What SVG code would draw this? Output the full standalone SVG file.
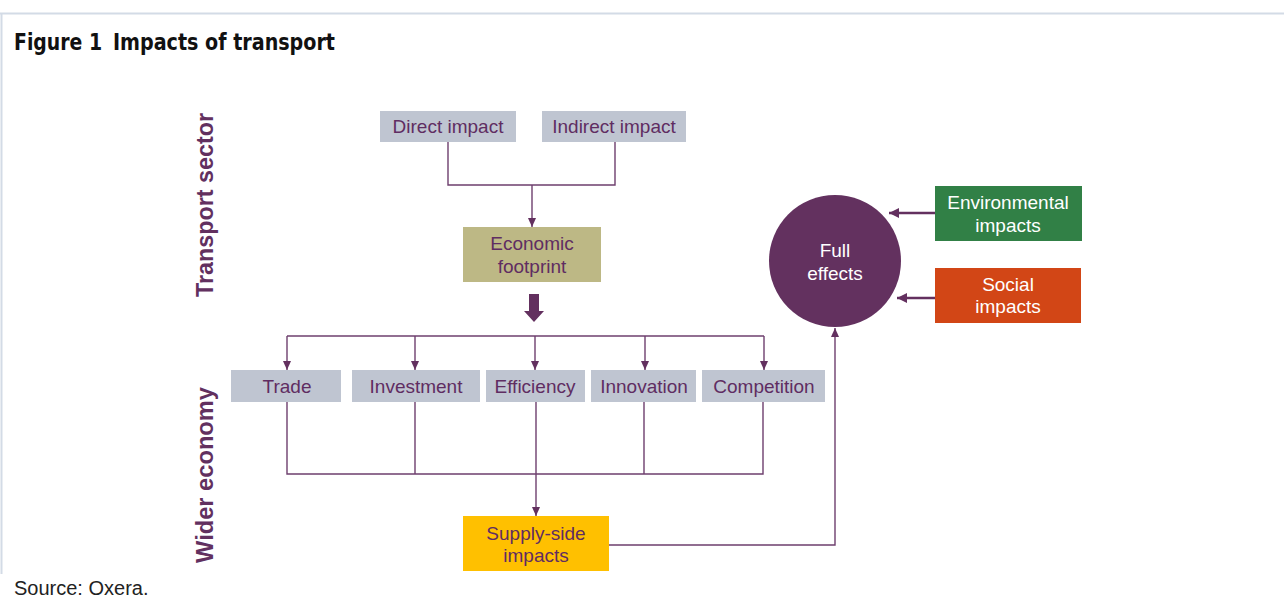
<svg xmlns="http://www.w3.org/2000/svg" width="1284" height="599" viewBox="0 0 1284 599">
<style>
.t{font-family:"Liberation Sans",Arial,sans-serif;font-size:19px;fill:#5F2D62;text-anchor:middle}
.w{font-family:"Liberation Sans",Arial,sans-serif;font-size:19px;fill:#FFFFFF;text-anchor:middle}
.g{fill:#BFC5D1}
.side{font-family:"Liberation Sans",Arial,sans-serif;font-size:23px;font-weight:bold;fill:#62305F;text-anchor:middle}
.ttl{font-family:"DejaVu Sans Condensed","DejaVu Sans",sans-serif;font-weight:bold;font-size:23px;fill:#111}
.ln{fill:none;stroke:#6E3F6E;stroke-width:1.4}
.thk{fill:none;stroke:#63305F;stroke-width:2.5}
</style>
<defs>
<marker id="ah" markerUnits="userSpaceOnUse" markerWidth="10" markerHeight="10" refX="9" refY="4" orient="auto">
<path d="M0,0 L9,4 L0,8 Z" fill="#63305F"/>
</marker>
<marker id="ahb" markerUnits="userSpaceOnUse" markerWidth="12" markerHeight="12" refX="10" refY="5" orient="auto">
<path d="M0,0 L10,5 L0,10 Z" fill="#63305F"/>
</marker>
</defs>
<rect width="1284" height="599" fill="#FFFFFF"/>
<g id="frame">
<line x1="0" y1="13.5" x2="1284" y2="13.5" stroke="#D3DBE6" stroke-width="2"/>
<line x1="1.5" y1="13" x2="1.5" y2="574" stroke="#D3DBE6" stroke-width="2"/>
</g>
<g id="title">
<text class="ttl" x="14" y="50" textLength="88" lengthAdjust="spacingAndGlyphs">Figure 1</text>
<text class="ttl" x="113" y="50" textLength="222" lengthAdjust="spacingAndGlyphs">Impacts of transport</text>
</g>
<text class="side" transform="translate(213,205) rotate(-90)" textLength="184" lengthAdjust="spacingAndGlyphs">Transport sector</text>
<text class="side" transform="translate(213,475) rotate(-90)" textLength="176" lengthAdjust="spacingAndGlyphs">Wider economy</text>

<g id="connectors">
<path class="ln" d="M448,142 V185 H615 V142"/>
<path class="ln" d="M532,185 V227" marker-end="url(#ah)"/>
<polygon points="529,294 539,294 539,311 544,311 534,322 524,311 529,311" fill="#63305F"/>
<path class="ln" d="M287,336 H764"/>
<path class="ln" d="M287,336 V370" marker-end="url(#ah)"/>
<path class="ln" d="M415,336 V370" marker-end="url(#ah)"/>
<path class="ln" d="M535,336 V370" marker-end="url(#ah)"/>
<path class="ln" d="M645,336 V370" marker-end="url(#ah)"/>
<path class="ln" d="M764,336 V370" marker-end="url(#ah)"/>
<path class="ln" d="M287,402 V474 H763 V402 M415,402 V474 M536,402 V474 M644,402 V474"/>
<path class="ln" d="M536,474 V516" marker-end="url(#ah)"/>
<path class="ln" d="M609,545 H835 V328" marker-end="url(#ah)"/>
<path class="thk" d="M935,213 H889" marker-end="url(#ahb)"/>
<path class="thk" d="M935,298 H897" marker-end="url(#ahb)"/>
</g>

<g id="direct"><rect class="g" x="380" y="111" width="136" height="31"/><text class="t" x="448" y="133">Direct impact</text></g>
<g id="indirect"><rect class="g" x="542" y="111" width="144" height="31"/><text class="t" x="614" y="133">Indirect impact</text></g>
<g id="footprint"><rect x="463" y="227" width="138" height="55" fill="#BDB885"/><text class="t" x="532" y="250">Economic</text><text class="t" x="532" y="273">footprint</text></g>

<g id="trade"><rect class="g" x="231" y="370" width="110" height="32"/><text class="t" x="287" y="393">Trade</text></g>
<g id="investment"><rect class="g" x="352" y="370" width="128" height="32"/><text class="t" x="416" y="393">Investment</text></g>
<g id="efficiency"><rect class="g" x="486" y="370" width="99" height="32"/><text class="t" x="535" y="393">Efficiency</text></g>
<g id="innovation"><rect class="g" x="591" y="370" width="105" height="32"/><text class="t" x="644" y="393">Innovation</text></g>
<g id="competition"><rect class="g" x="702" y="370" width="123" height="32"/><text class="t" x="764" y="393">Competition</text></g>

<g id="supply"><rect x="463" y="516" width="146" height="55" fill="#FFC000"/><text class="t" x="536" y="540">Supply-side</text><text class="t" x="536" y="562">impacts</text></g>

<g id="full"><circle cx="835" cy="261" r="66" fill="#63315F"/><text class="w" x="835" y="257">Full</text><text class="w" x="835" y="280">effects</text></g>
<g id="environmental"><rect x="935" y="186" width="147" height="55" fill="#318046"/><text class="w" x="1008" y="209">Environmental</text><text class="w" x="1008" y="232">impacts</text></g>
<g id="social"><rect x="935" y="268" width="146" height="55" fill="#D24616"/><text class="w" x="1008" y="291">Social</text><text class="w" x="1008" y="313">impacts</text></g>

<text x="14" y="595" font-family="Liberation Sans, Arial, sans-serif" font-size="20" fill="#222">Source: Oxera.</text>
</svg>
